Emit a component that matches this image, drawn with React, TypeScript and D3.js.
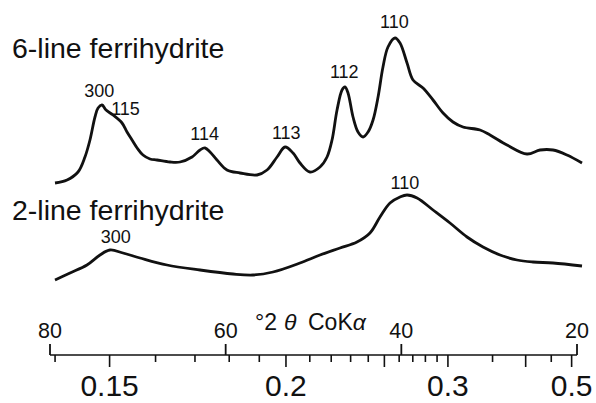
import React from "react";
import * as d3 from "d3";

// 2θ (CoKα) positions and relative intensities
const sixLineTwoTheta = [79.43, 78.06, 76.81, 76.02, 75.45, 74.88, 74.53, 74.08, 73.62, 72.83, 71.8, 71.23, 70.66, 70.08, 69.41, 68.61, 67.82, 66.34, 65.2, 63.83, 62.92, 62.35, 61.78, 60.99, 59.85, 58.37, 56.43, 55.29, 54.15, 53.24, 52.33, 51.54, 50.4, 49.26, 48.46, 47.89, 47.32, 46.75, 46.41, 46.07, 45.5, 44.93, 44.36, 43.79, 43.22, 42.65, 42.09, 41.52, 40.72, 40.15, 39.35, 38.67, 37.53, 36.39, 35.25, 34.12, 32.98, 31.04, 29.9, 27.97, 25.69, 24.21, 22.73, 21.14, 19.43];
const sixLineIntensity = [17, 20, 28, 43, 60, 83, 92, 95, 90, 85, 77, 68, 60, 52, 45, 41, 40, 38, 38, 43, 50, 52, 48, 40, 30, 27, 25, 30, 43, 53, 47, 37, 28, 33, 43, 60, 90, 110, 113, 107, 83, 68, 63, 68, 80, 103, 133, 153, 162, 157, 137, 120, 112, 100, 87, 78, 73, 70, 65, 55, 46, 50, 50, 45, 37];

const twoLineTwoTheta = [79.43, 77.72, 75.79, 74.31, 73.17, 71.69, 69.75, 66.68, 62.92, 59.16, 56.89, 54.61, 51.54, 49.26, 46.98, 45.05, 43.57, 42.43, 41.29, 40.15, 39.35, 38.21, 36.39, 34.46, 32.52, 30.7, 28.76, 26.83, 25.01, 22.73, 19.43];
const twoLineIntensity = [20, 27, 35, 45, 50, 47, 42, 35, 30, 26, 25, 28, 37, 45, 52, 58, 67, 83, 97, 103, 105, 102, 90, 77, 63, 53, 45, 40, 38, 37, 34];

const seriesNames = ["6-line ferrihydrite", "2-line ferrihydrite"];
const seriesOffsets = [100, 0];

// peak labels: [series, 2θ, intensity at label baseline, text]
const peakLabels: [number, number, number, string][] = [
  [0, 74.4, 103, "300"],
  [0, 71.4, 85, "115"],
  [0, 62.4, 60, "114"],
  [0, 53.1, 61, "113"],
  [0, 46.5, 122, "112"],
  [0, 40.8, 172, "110"],
  [1, 39.6, 111, "110"],
  [1, 72.5, 57, "300"],
];

const twoThetaTicks = [80, 60, 40, 20];
const dLabelTicks = [0.15, 0.2, 0.3, 0.5];
const dLongTicks = [0.15, 0.2, 0.25, 0.3, 0.4, 0.5];
const dShortTicks = [0.14, 0.16, 0.17, 0.18, 0.19, 0.21, 0.22, 0.23, 0.24, 0.26, 0.27, 0.28, 0.29, 0.35, 0.45];

const LAMBDA = 0.1789; // nm, CoKα
const dToTwoTheta = (d: number) => (2 * Math.asin(LAMBDA / (2 * d)) * 180) / Math.PI;

const FONT = "'Liberation Sans', Arial, Helvetica, sans-serif";

export default function App() {
  const x = d3.scaleLinear().domain([80, 20]).range([50, 577]);
  const y = d3.scaleLinear().domain([0, 300]).range([300, 0]);
  const axisY = 355;

  const line = (tt: number[], ii: number[], off: number) =>
    d3
      .line<number>()
      .x((_, i) => x(tt[i]))
      .y((v) => y(v + off))
      .curve(d3.curveCatmullRom.alpha(0.5))(ii) || "";

  const paths = [
    line(sixLineTwoTheta, sixLineIntensity, seriesOffsets[0]),
    line(twoLineTwoTheta, twoLineIntensity, seriesOffsets[1]),
  ];

  return (
    <svg
      width={596}
      height={403}
      style={{ position: "absolute", left: 0, top: 0, background: "#fff" }}
      fontFamily={FONT}
    >
      <rect width={596} height={403} fill="#fff" />
      {paths.map((p, i) => (
        <path key={i} d={p} fill="none" stroke="#111" strokeWidth={2.8} strokeLinejoin="round" />
      ))}
      <text x={12} y={58} fontSize={28.5} fill="#111">{seriesNames[0]}</text>
      <text x={12} y={220} fontSize={28.5} fill="#111">{seriesNames[1]}</text>
      {peakLabels.map(([s, t, v, lab], i) => (
        <text key={i} x={x(t)} y={y(v + seriesOffsets[s])} fontSize={18} textAnchor="middle" fill="#111">
          {lab}
        </text>
      ))}

      {/* axis */}
      <line x1={x(80)} x2={x(20)} y1={axisY} y2={axisY} stroke="#111" strokeWidth={1.6} />
      {twoThetaTicks.map((t) => (
        <g key={t}>
          <line x1={x(t)} x2={x(t)} y1={axisY} y2={axisY - 11} stroke="#111" strokeWidth={1.8} />
          <text x={x(t)} y={338} fontSize={21.5} textAnchor="middle" fill="#111">{t}</text>
        </g>
      ))}
      {dShortTicks.map((d) => (
        <line key={d} x1={x(dToTwoTheta(d))} x2={x(dToTwoTheta(d))} y1={axisY} y2={axisY + 7} stroke="#111" strokeWidth={1.6} />
      ))}
      {dLongTicks.map((d) => (
        <line key={d} x1={x(dToTwoTheta(d))} x2={x(dToTwoTheta(d))} y1={axisY} y2={axisY + 12} stroke="#111" strokeWidth={1.6} />
      ))}
      {dLabelTicks.map((d) => (
        <text key={d} x={x(dToTwoTheta(d))} y={396} fontSize={30} textAnchor="middle" fill="#111">{String(d)}</text>
      ))}
      <text y={330} fontSize={23} fill="#111">
        <tspan x={255}>°2</tspan>
        <tspan x={284} fontStyle="italic">θ</tspan>
        <tspan x={308}>CoK</tspan>
        <tspan fontStyle="italic">α</tspan>
      </text>
    </svg>
  );
}
